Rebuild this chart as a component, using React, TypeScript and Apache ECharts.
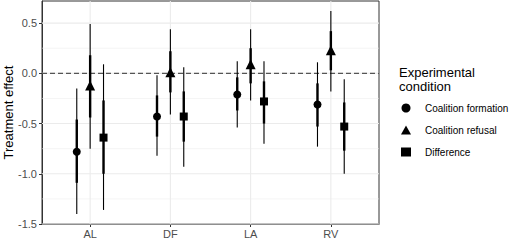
import React, { useEffect, useRef } from "react";
import * as echarts from "echarts";

const categories = ["AL", "DF", "LA", "RV"];
const conditions = ["Coalition formation", "Coalition refusal", "Difference"];
const symbols = ["circle", "triangle", "rect"];
const symbolSizes = [8, 10, 8];
const dodge = [-0.1667, 0, 0.1667];

// estimates
const formationEst = [-0.78, -0.43, -0.21, -0.31];
const refusalEst = [-0.12, 0.01, 0.09, 0.23];
const differenceEst = [-0.64, -0.43, -0.28, -0.53];
// inner (thick) intervals
const formationInnerLo = [-1.09, -0.63, -0.37, -0.53];
const formationInnerHi = [-0.46, -0.22, -0.04, -0.1];
const refusalInnerLo = [-0.44, -0.19, -0.1, 0.03];
const refusalInnerHi = [0.18, 0.22, 0.25, 0.42];
const differenceInnerLo = [-1.0, -0.68, -0.5, -0.77];
const differenceInnerHi = [-0.27, -0.18, -0.08, -0.29];
// outer (thin) intervals
const formationOuterLo = [-1.4, -0.82, -0.54, -0.73];
const formationOuterHi = [-0.15, -0.02, 0.12, 0.11];
const refusalOuterLo = [-0.75, -0.41, -0.27, -0.18];
const refusalOuterHi = [0.49, 0.44, 0.44, 0.62];
const differenceOuterLo = [-1.36, -0.93, -0.7, -1.0];
const differenceOuterHi = [0.09, 0.06, 0.12, -0.06];

const yTicks = [-1.5, -1.0, -0.5, 0.0, 0.5];
const yMinor = [-1.25, -0.75, -0.25, 0.25];
const xTicks = [0, 1, 2, 3];
const yTitle = "Treatment effect";
const legendTitle = "Experimental\ncondition";

const FONT = "'Liberation Sans', Arial, sans-serif";

export default function App() {
  const ref = useRef<HTMLDivElement>(null);
  useEffect(() => {
    if (!ref.current) return;
    const chart = echarts.init(ref.current, undefined, { renderer: "svg" });
    const est = [formationEst, refusalEst, differenceEst];
    const inLo = [formationInnerLo, refusalInnerLo, differenceInnerLo];
    const inHi = [formationInnerHi, refusalInnerHi, differenceInnerHi];
    const outLo = [formationOuterLo, refusalOuterLo, differenceOuterLo];
    const outHi = [formationOuterHi, refusalOuterHi, differenceOuterHi];

    const gridData: any[] = [
      ...yTicks.map((v) => ["h", v, 1]),
      ...yMinor.map((v) => ["h", v, 0]),
      ...xTicks.map((v) => ["v", v, 1]),
      ["z", 0, 2],
    ];

    const series: any[] = [
      {
        type: "custom",
        name: "gridlines",
        silent: true,
        z: 1,
        data: gridData.map((d, i) => [i]),
        renderItem: (params: any, api: any) => {
          const d = gridData[params.dataIndex];
          const cs = params.coordSys;
          if (d[0] === "h") {
            const y = api.coord([0, d[1]])[1];
            return {
              type: "line",
              shape: { x1: cs.x, y1: y, x2: cs.x + cs.width, y2: y },
              style: { stroke: "#EBEBEB", lineWidth: d[2] ? 1.1 : 0.55 },
            };
          }
          if (d[0] === "v") {
            const x = api.coord([d[1], 0])[0];
            return {
              type: "line",
              shape: { x1: x, y1: cs.y, x2: x, y2: cs.y + cs.height },
              style: { stroke: "#EBEBEB", lineWidth: 1.1 },
            };
          }
          const y = api.coord([0, d[1]])[1];
          return {
            type: "line",
            z2: 5,
            shape: { x1: cs.x, y1: y, x2: cs.x + cs.width, y2: y },
            style: { stroke: "#555555", lineWidth: 1.2, lineDash: [5, 3] },
          };
        },
      },
    ];

    conditions.forEach((name, k) => {
      series.push({
        type: "custom",
        name: "ci-" + k,
        silent: true,
        z: 2,
        encode: { x: 0, y: [1, 2, 3, 4] },
        data: categories.map((_, i) => [
          i + dodge[k],
          outLo[k][i],
          outHi[k][i],
          inLo[k][i],
          inHi[k][i],
        ]),
        renderItem: (_p: any, api: any) => {
          const x = api.value(0);
          const a = api.coord([x, api.value(1)]);
          const b = api.coord([x, api.value(2)]);
          const c = api.coord([x, api.value(3)]);
          const d = api.coord([x, api.value(4)]);
          return {
            type: "group",
            children: [
              {
                type: "line",
                shape: { x1: a[0], y1: a[1], x2: b[0], y2: b[1] },
                style: { stroke: "#000", lineWidth: 1.1 },
              },
              {
                type: "line",
                shape: { x1: c[0], y1: c[1], x2: d[0], y2: d[1] },
                style: { stroke: "#000", lineWidth: 2.4 },
              },
            ],
          };
        },
      });
    });

    conditions.forEach((name, k) => {
      series.push({
        type: "scatter",
        name,
        z: 3,
        symbol: symbols[k],
        symbolSize: symbolSizes[k],
        itemStyle: { color: "#000", opacity: 1 },
        data: categories.map((_, i) => [i + dodge[k], est[k][i]]),
      });
    });

    chart.setOption({
      animation: false,
      backgroundColor: "#fff",
      textStyle: { fontFamily: FONT },
      grid: {
        left: 42,
        top: 1,
        width: 337,
        height: 223,
        show: true,
        borderColor: "#333333",
        borderWidth: 1,
        backgroundColor: "#fff",
        containLabel: false,
        outerBoundsMode: "none",
      },
      xAxis: {
        type: "value",
        min: -0.6,
        max: 3.6,
        splitLine: { show: false },
        axisLine: { show: true, onZero: false, lineStyle: { color: "#333333" } },
        axisTick: {
          show: true,
          customValues: xTicks,
          length: 3,
          lineStyle: { color: "#333333" },
        },
        axisLabel: {
          customValues: xTicks,
          formatter: (v: number) => categories[Math.round(v)],
          color: "#4D4D4D",
          fontSize: 11,
          fontFamily: FONT,
          margin: 4,
        },
      },
      yAxis: {
        type: "value",
        min: -1.5,
        max: 0.72,
        splitLine: { show: false },
        axisLine: { show: true, onZero: false, lineStyle: { color: "#333333" } },
        axisTick: {
          show: true,
          customValues: yTicks,
          length: 3,
          lineStyle: { color: "#333333" },
        },
        axisLabel: {
          customValues: yTicks,
          formatter: (v: number) => v.toFixed(1),
          color: "#4D4D4D",
          fontSize: 11,
          fontFamily: FONT,
          margin: 5,
        },
      },
      legend: {
        orient: "vertical",
        left: 401,
        top: 103,
        padding: 0,
        itemWidth: 10,
        itemHeight: 9,
        itemGap: 12,
        selectedMode: false,
        textStyle: {
          fontSize: 10,
          color: "#000",
          fontFamily: FONT,
          padding: [0, 0, 0, 9],
        },
        data: conditions.map((n, k) => ({ name: n, icon: symbols[k] })),
      },
      graphic: [
        {
          type: "text",
          x: 8,
          y: 112.5,
          rotation: Math.PI / 2,
          style: {
            text: yTitle,
            fontSize: 13,
            fill: "#000",
            fontFamily: FONT,
            align: "center",
            verticalAlign: "middle",
          },
        },
        {
          type: "text",
          left: 399,
          top: 66,
          style: {
            text: legendTitle,
            fontSize: 13,
            lineHeight: 13.5,
            fill: "#000",
            fontFamily: FONT,
          },
        },
      ],
      series,
    });
    return () => chart.dispose();
  }, []);
  return (
    <div
      ref={ref}
      style={{ position: "fixed", left: 0, top: 0, width: 520, height: 241 }}
    />
  );
}
